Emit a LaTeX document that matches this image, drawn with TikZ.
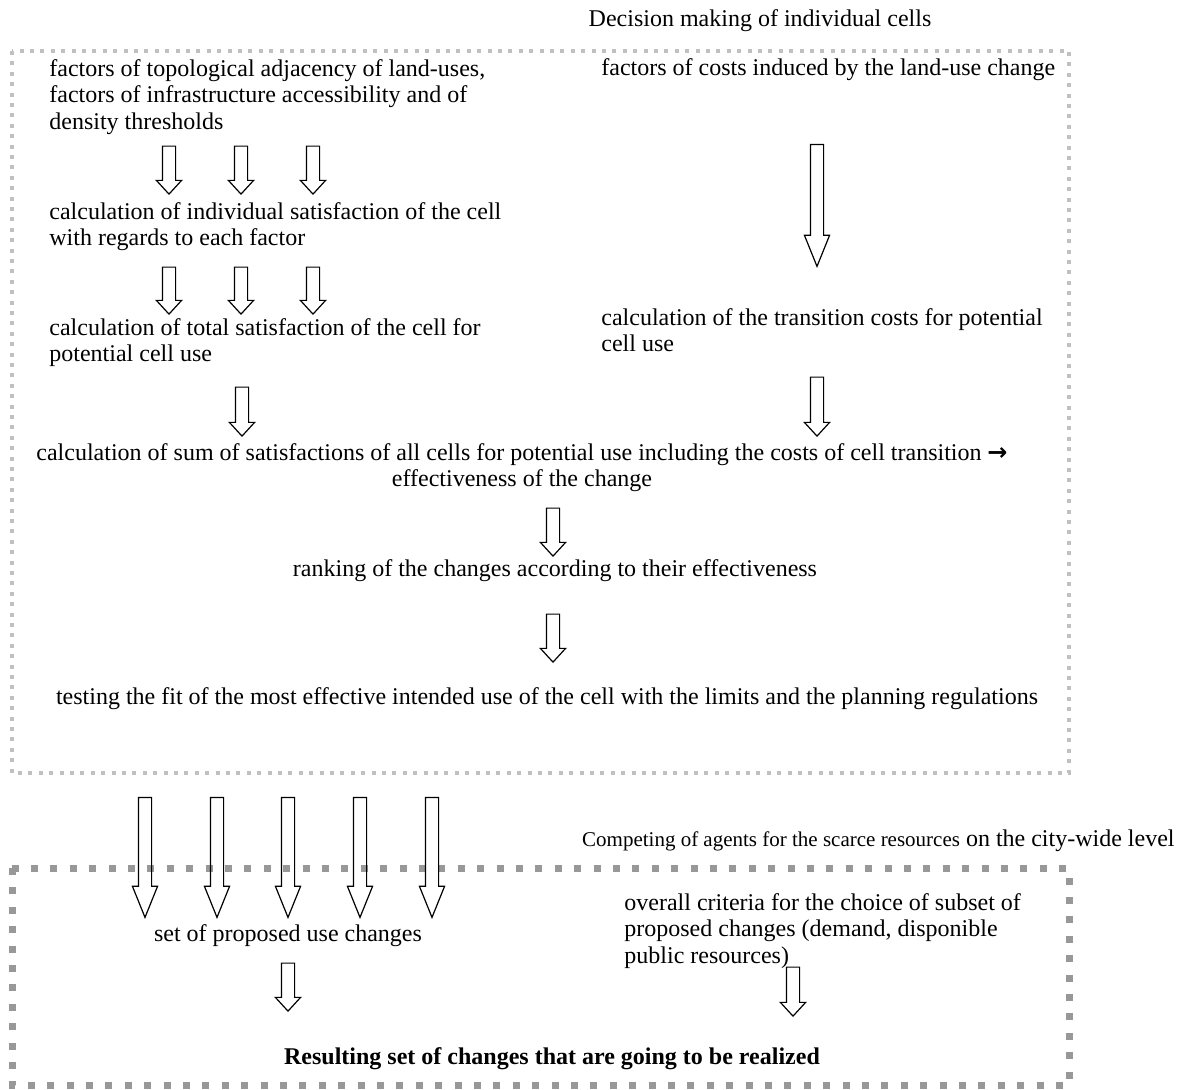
\documentclass[tikz,border=0pt]{standalone}
\usepackage{fontspec}
\setmainfont{Liberation Serif}
\newfontfamily\arrowfont{DejaVu Sans}
\usepackage{tikz}
\usetikzlibrary{shapes.arrows}
\definecolor{lightdots}{RGB}{192,192,192}
\definecolor{darkdots}{RGB}{152,152,152}
\tikzset{
  label text/.style={inner sep=0pt,font=\fontsize{12}{13.2}\selectfont},
  left block/.style={label text,anchor=north west,align=left},
  mid block/.style={label text,anchor=north,align=center},
  hollow arrow/.style={single arrow,draw=black,line width=0.6pt,rotate=-90,anchor=tip,
    inner xsep=0pt,inner ysep=3pt,single arrow head extend=3pt,
    single arrow tip angle=85,minimum height=#1},
  long arrow/.style={hollow arrow=#1,single arrow tip angle=44},
  cell frame/.style={draw=lightdots,line width=2pt,dash pattern=on 2pt off 3.2pt},
  city frame/.style={draw=darkdots,line width=3.5pt,dash pattern=on 3.5pt off 6.2pt}
}

\begin{document}
\begin{tikzpicture}[x=0.5pt,y=-0.5pt]
  \useasboundingbox (0,0) rectangle (1178,1089);
  \draw[cell frame] (12,51) rectangle (1069,773);
  \draw[city frame] (12,868) rectangle (1069,1085);
  \node[label text,anchor=base] (decision) at (760,26) {Decision making of individual cells};
  \node[left block] (adjacency) at (49,59) {factors of topological adjacency of land-uses,\\factors of infrastructure accessibility and of\\density thresholds};
  \node[left block] (costfactors) at (601,58) {factors of costs induced by the land-use change};
  \node[left block] (individual) at (49,202) {calculation of individual satisfaction of the cell\\with regards to each factor};
  \node[left block] (total) at (49,318) {calculation of total satisfaction of the cell for\\potential cell use};
  \node[left block] (transition) at (601,308) {calculation of the transition costs for potential\\cell use};
  \node[mid block] (sum) at (522,443) {calculation of sum of satisfactions of all cells for potential use including the costs of cell transition {\arrowfont\bfseries →}\\effectiveness of the change};
  \node[label text,anchor=base] (ranking) at (555,576) {ranking of the changes according to their effectiveness};
  \node[label text,anchor=base] (testing) at (547,704) {testing the fit of the most effective intended use of the cell with the limits and the planning regulations};
  \node[label text,anchor=base east] (competing) at (1175,846) {{\fontsize{10.5}{12}\selectfont Competing of agents for the scarce resources} on the city-wide level};
  \node[label text,anchor=base] (proposed) at (288,941) {set of proposed use changes};
  \node[left block] (criteria) at (624,893) {overall criteria for the choice of subset of\\proposed changes (demand, disponible\\public resources)};
  \node[label text,anchor=base,font=\bfseries\fontsize{12}{13.2}\selectfont] (resulting) at (552,1064) {Resulting set of changes that are going to be realized};

  \node[hollow arrow=24pt] (adj1) at (169,195) {};
  \node[hollow arrow=24pt] (adj2) at (241,195) {};
  \node[hollow arrow=24pt] (adj3) at (313,195) {};
  \node[hollow arrow=23.5pt] (ind1) at (169,315) {};
  \node[hollow arrow=23.5pt] (ind2) at (241,315) {};
  \node[hollow arrow=23.5pt] (ind3) at (313,315) {};
  \node[long arrow=61pt] (cost) at (817,268) {};
  \node[hollow arrow=24.5pt] (tot) at (242,437) {};
  \node[hollow arrow=29.5pt] (tra) at (817,437) {};
  \node[hollow arrow=24pt] (eff) at (553,557) {};
  \node[hollow arrow=24pt] (rank) at (553,663) {};
  \node[long arrow=60pt] (fit1) at (145,919) {};
  \node[long arrow=60pt] (fit2) at (217,919) {};
  \node[long arrow=60pt] (fit3) at (288,919) {};
  \node[long arrow=60pt] (fit4) at (360,919) {};
  \node[long arrow=60pt] (fit5) at (432,919) {};
  \node[hollow arrow=24pt] (prop) at (288,1012) {};
  \node[hollow arrow=24.5pt] (crit) at (793,1017) {};
\end{tikzpicture}
\end{document}
